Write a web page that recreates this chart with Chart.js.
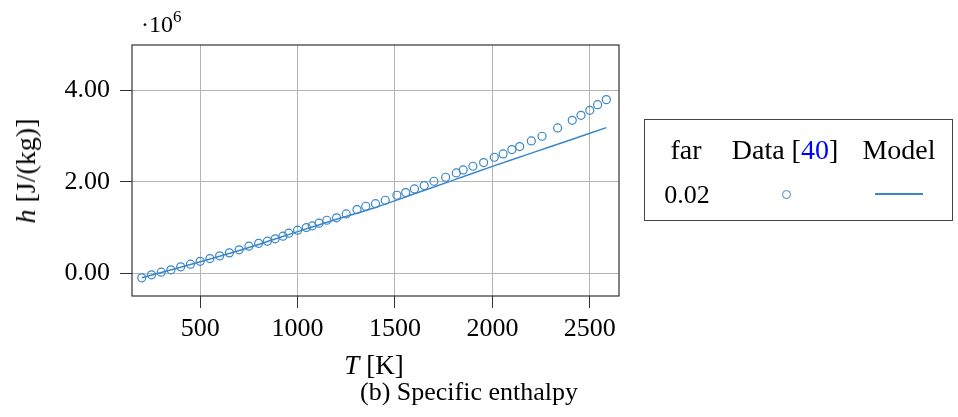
<!DOCTYPE html>
<html>
<head>
<meta charset="utf-8">
<script src="https://cdn.jsdelivr.net/npm/chart.js@4.4.0/dist/chart.umd.min.js"></script>
<style>
  body { margin: 0; background: #fff; }
  #wrap { position: relative; width: 958px; height: 417px; font-family: 'Liberation Serif', serif; color: #000; }
  #wrap canvas { position: absolute; left: 0; top: 0; }
  .txt { position: absolute; white-space: nowrap; line-height: 1; }
  .mid { transform: translateX(-50%); }
  .legend-box { position: absolute; left: 644px; top: 119px; width: 309px; height: 102px; border: 1.3px solid #444; box-sizing: border-box; }
  .mark { position: absolute; width: 9px; height: 9px; border: 1.3px solid #3a87c8; border-radius: 50%; box-sizing: border-box; }
  .lline { position: absolute; height: 1.6px; background: #3a87c8; }
</style>
</head>
<body>
<div id="wrap">
  <canvas id="chart" width="958" height="417"></canvas>

  <div class="txt" style="left:141px; top:12px; font-size:24px;">·10<span style="font-size:17px; position:relative; top:-10px;">6</span></div>

  <div class="txt" style="left:25.5px; top:171px; font-size:28px; transform: translate(-50%,-50%) rotate(-90deg);"><i>h</i> [J/(kg)]</div>
  <div class="txt mid" style="left:374px; top:352px; font-size:27px;"><i>T</i> [K]</div>
  <div class="txt mid" style="left:469px; top:379px; font-size:26px;">(b) Specific enthalpy</div>

  <div class="legend-box"></div>
  <div class="txt mid" style="left:686px; top:136px; font-size:28px;">far</div>
  <div class="txt mid" style="left:785px; top:136px; font-size:28px;">Data [<span style="color:#0000ff;">40</span>]</div>
  <div class="txt mid" style="left:899px; top:136px; font-size:28px;">Model</div>
  <div class="txt mid" style="left:687px; top:182px; font-size:26px;">0.02</div>
  <div class="mark" style="left:782px; top:189.5px;"></div>
  <div class="lline" style="left:875px; top:193px; width:48px;"></div>
</div>

<script>
// data (h in J/kg)
const dataT = [200, 250, 300, 350, 400, 450, 500, 550, 600, 650, 700, 750, 800, 845, 885, 925, 955,
  1000, 1045, 1075, 1110, 1150, 1200, 1250, 1305, 1350, 1400, 1450, 1510, 1555, 1600, 1650, 1700,
  1760, 1815, 1850, 1900, 1955, 2010, 2055, 2100, 2140, 2200, 2255, 2335, 2410, 2455, 2500, 2540, 2585];
const dataH = [-0.102e6, -0.037e6, 0.022e6, 0.073e6, 0.139e6, 0.197e6, 0.26e6, 0.321e6, 0.38e6, 0.445e6,
  0.511e6, 0.591e6, 0.655e6, 0.701e6, 0.752e6, 0.81e6, 0.876e6, 0.942e6, 1.0e6, 1.036e6, 1.095e6,
  1.16e6, 1.212e6, 1.299e6, 1.394e6, 1.467e6, 1.522e6, 1.598e6, 1.708e6, 1.766e6, 1.846e6, 1.92e6,
  2.014e6, 2.102e6, 2.197e6, 2.263e6, 2.343e6, 2.423e6, 2.54e6, 2.613e6, 2.708e6, 2.774e6, 2.898e6,
  3.0e6, 3.182e6, 3.35e6, 3.46e6, 3.569e6, 3.693e6, 3.803e6];

const modelT = [200, 400, 600, 800, 1000, 1200, 1400, 1600, 1800, 2000, 2200, 2400, 2585];
const modelH = [-0.1e6, 0.13e6, 0.37e6, 0.63e6, 0.91e6, 1.18e6, 1.44e6, 1.74e6, 2.04e6, 2.34e6, 2.63e6, 2.92e6, 3.19e6];

const xTicks = [500, 1000, 1500, 2000, 2500];
const yTicks = [0, 2e6, 4e6];

const blue = '#3a87c8';
const font = { family: "'Liberation Serif', serif", size: 26 };

function zip(xs, ys) {
    return xs.map(function (x, i) { return { x: x, y: ys[i] }; });
}

// box round the plot area
const framePlugin = {
    id: 'frame',
    afterDraw(chart) {
        const a = chart.chartArea;
        const ctx = chart.ctx;
        ctx.save();
        ctx.strokeStyle = '#333';
        ctx.lineWidth = 1.2;
        ctx.strokeRect(a.left, a.top, a.right - a.left, a.bottom - a.top);
        ctx.restore();
    }
};

new Chart(document.getElementById('chart'), {
    type: 'scatter',
    data: {
        datasets: [{
            label: 'Data',
            data: zip(dataT, dataH),
            pointStyle: 'circle',
            pointRadius: 4,
            pointBorderWidth: 1.2,
            borderColor: blue,
            backgroundColor: 'rgba(0,0,0,0)',
            showLine: false
        }, {
            label: 'Model',
            data: zip(modelT, modelH),
            showLine: true,
            pointRadius: 0,
            borderColor: blue,
            borderWidth: 1.5,
            tension: 0.3
        }]
    },
    options: {
        responsive: false,
        animation: false,
        layout: { padding: { top: 45, right: 339, bottom: 0, left: 0 } },
        plugins: { legend: { display: false }, tooltip: { enabled: false } },
        scales: {
            x: {
                type: 'linear',
                min: 150,
                max: 2650,
                afterBuildTicks: function (scale) { scale.ticks = xTicks.map(function (v) { return { value: v }; }); },
                afterFit: function (scale) { scale.height = 121; },
                ticks: {
                    font: font, color: '#000', padding: 6, maxRotation: 0,
                    callback: function (v) { return String(v); }
                },
                grid: { color: '#b4b4b4', tickColor: '#333', tickLength: 12, lineWidth: 1 },
                border: { display: false }
            },
            y: {
                type: 'linear',
                min: -0.5e6,
                max: 5e6,
                afterBuildTicks: function (scale) { scale.ticks = yTicks.map(function (v) { return { value: v }; }); },
                afterFit: function (scale) { scale.width = 132; },
                ticks: {
                    font: font, color: '#000', padding: 10,
                    callback: function (v) { return (v / 1e6).toFixed(2); }
                },
                grid: { color: '#b4b4b4', tickColor: '#333', tickLength: 12, lineWidth: 1 },
                border: { display: false }
            }
        }
    },
    plugins: [framePlugin]
});
</script>
</body>
</html>
